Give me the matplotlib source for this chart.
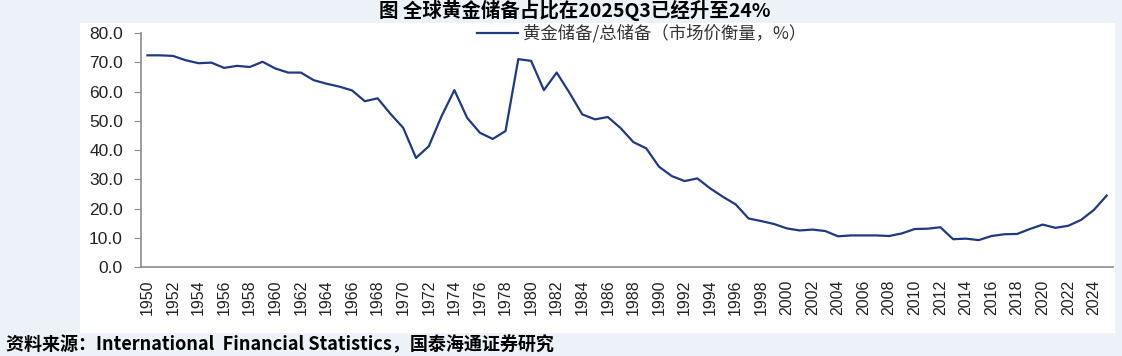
import matplotlib
matplotlib.use('Agg')
from matplotlib import pyplot as plt

plt.rcParams['font.family'] = ['Liberation Sans', 'Noto Sans CJK SC', 'DejaVu Sans']

# 年份 1950-2025（2025为Q3）
years = list(range(1950, 2026))
# 黄金储备/总储备（市场价衡量，%）
gold_share = [
    72.4, 72.4, 72.2, 70.7, 69.7, 69.9, 68.1, 68.8, 68.4, 70.2,
    67.9, 66.5, 66.5, 63.9, 62.7, 61.7, 60.4, 56.7, 57.7, 52.4,
    47.6, 37.3, 41.3, 51.6, 60.5, 51.0, 45.9, 43.8, 46.5, 71.1,
    70.5, 60.5, 66.5, 59.6, 52.2, 50.5, 51.3, 47.5, 42.7, 40.6,
    34.3, 31.1, 29.4, 30.3, 26.9, 24.0, 21.4, 16.6, 15.7, 14.7,
    13.2, 12.5, 12.8, 12.3, 10.5, 10.8, 10.8, 10.8, 10.6, 11.5,
    13.0, 13.1, 13.6, 9.5, 9.7, 9.2, 10.6, 11.2, 11.3, 13.0,
    14.5, 13.4, 14.1, 16.1, 19.5, 24.4,
]
yticks = [0, 10, 20, 30, 40, 50, 60, 70, 80]
xtick_years = list(range(1950, 2025, 2))

title = '图 全球黄金储备占比在2025Q3已经升至24%'
series_name = '黄金储备/总储备（市场价衡量，%）'
source = '资料来源：International  Financial Statistics，国泰海通证券研究'

fig = plt.figure(figsize=(11.22, 3.56), dpi=100, facecolor='#EDF2F8')

# 白色图表区（背景）
bg = fig.add_axes([0.071, 0.065, 0.923, 0.87], zorder=0)
bg.set_facecolor('white')
bg.set_xticks([])
bg.set_yticks([])
for s in bg.spines.values():
    s.set_visible(False)

ax = fig.add_axes([0.1257, 0.25, 0.8663, 0.657], zorder=1)
ax.patch.set_alpha(0)
ax.plot(years, gold_share, color='#1F3A80', lw=1.6, solid_joinstyle='round',
        label=series_name)

ax.set_xlim(1949.5, 2025.5)
ax.set_ylim(0, 80)
ax.set_yticks(yticks)
ax.set_yticklabels(['%.1f' % v for v in yticks], fontsize=12.5, color='#222222')
ax.set_xticks(xtick_years)
ax.set_xticklabels([str(y) for y in xtick_years], rotation=90, fontsize=11.5,
                   color='#222222')

for s in ['top', 'right']:
    ax.spines[s].set_visible(False)
for s in ['left', 'bottom']:
    ax.spines[s].set_color('#8C8C8C')
    ax.spines[s].set_linewidth(1.2)
ax.tick_params(axis='y', direction='out', length=5, color='#8C8C8C', pad=8)
ax.tick_params(axis='x', length=0, pad=9)

leg = ax.legend(loc='center', bbox_to_anchor=(0.515, 0.998), frameon=False,
                handlelength=2.4, handletextpad=0.3, borderaxespad=0, borderpad=0,
                prop={'family': ['Noto Sans CJK SC', 'DejaVu Sans'], 'size': 12.5})
for t in leg.get_texts():
    t.set_color('#333333')

fig.text(0.512, 0.97, title, ha='center', va='center', fontsize=14,
         fontweight='bold', family=['Noto Sans CJK SC', 'DejaVu Sans'])
fig.text(0.005, 0.032, source, ha='left', va='center', fontsize=13,
         fontweight='bold', family=['Noto Sans CJK SC', 'DejaVu Sans'])

fig.savefig('out.png', dpi=100, facecolor=fig.get_facecolor())
